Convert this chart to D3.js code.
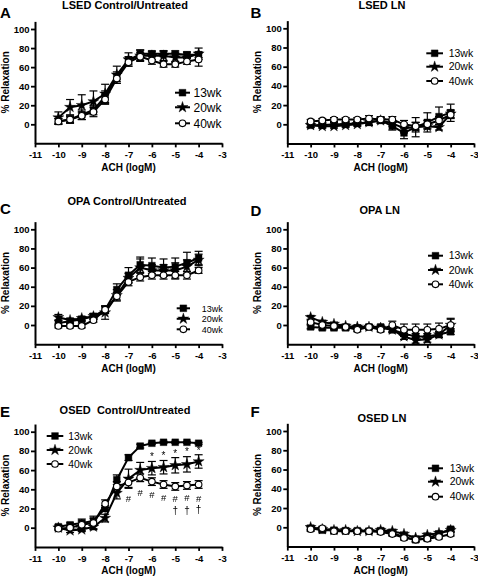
<!DOCTYPE html>
<html>
<head>
<meta charset="utf-8">
<script src="https://cdn.jsdelivr.net/npm/d3@7"></script>
<style>
  html, body { margin: 0; padding: 0; background: #fff; }
  svg { display: block; font-family: "Liberation Sans", Arial, sans-serif; }
  text { fill: #000; }
  .sig { will-change: transform; opacity: 0.999; }
</style>
</head>
<body>
<script>
// ---------------- DATA ----------------
const conc = [-10, -9.5, -9, -8.5, -8, -7.5, -7, -6.5, -6, -5.5, -5, -4.5, -4];
const xTicks = [-11, -10, -9, -8, -7, -6, -5, -4, -3];
const yTicks = [0, 20, 40, 60, 80, 100];
const seriesNames = ["13wk", "20wk", "40wk"];
const panelLetters = ["A", "B", "C", "D", "E", "F"];
const panelTitles = ["LSED Control/Untreated", "LSED LN", "OPA Control/Untreated", "OPA LN", "OSED  Control/Untreated", "OSED LN"];
const xLabel = "ACH (logM)";
const yLabel = "% Relaxation";

// A: LSED Control/Untreated
const a13 = [3, 5, 10, 15, 29, 50, 67, 74, 74, 74, 74, 73, 73];
const a13Err = [3, 4, 5, 5, 6, 5, 4, 4, 3, 3, 3, 3, 3];
const a20 = [7, 18, 20, 24, 32, 52, 68, 72, 72, 72, 70, 70, 74];
const a20Err = [6, 8, 11, 11, 10, 9, 7, 6, 4, 5, 5, 5, 6];
const a40 = [3, 5, 9, 13, 26, 48, 65, 71, 67, 63, 63, 66, 68];
const a40Err = [3, 3, 4, 5, 5, 5, 4, 4, 4, 3, 3, 3, 7];
// B: LSED LN
const b13 = [-1, -1, 0, 0, 1, 2, 4, -2, -9, -3, 2, 8, 12];
const b13Err = [2, 2, 2, 2, 2, 3, 3, 4, 6, 5, 10, 10, 9];
const b20 = [-1, -2, -2, -1, 0, 2, 4, 1, -4, -3, -2, -3, 11];
const b20Err = [2, 2, 2, 2, 2, 3, 3, 3, 5, 10, 3, 3, 4];
const b40 = [3, 4, 5, 5, 5, 6, 5, 5, 0, -2, 0, 4, 10];
const b40Err = [2, 2, 2, 2, 2, 3, 3, 3, 4, 4, 4, 4, 4];
// C: OPA Control/Untreated
const c13 = [2, 4, 6, 9, 16, 37, 52, 63, 62, 60, 61, 65, 70];
const c13Err = [3, 2, 2, 3, 4, 6, 8, 8, 8, 9, 9, 11, 7];
const c20 = [8, 5, 7, 9, 13, 31, 49, 60, 57, 57, 57, 61, 68];
const c20Err = [3, 2, 2, 3, 7, 6, 5, 9, 6, 6, 8, 7, 6];
const c40 = [-1, -1, -1, 5, 16, 30, 45, 50, 52, 52, 52, 52, 57];
const c40Err = [2, 2, 2, 2, 3, 4, 4, 4, 4, 4, 4, 4, 3];
// D: OPA LN
const d13 = [-2, -3, -3, -3, -3, -2, -2, -5, -9, -12, -12, -10, -7];
const d13Err = [2, 2, 2, 2, 2, 2, 2, 3, 3, 3, 3, 3, 3];
const d20 = [8, 3, 1, -1, -2, -2, -3, -5, -12, -16, -15, -10, 0];
const d20Err = [2, 2, 2, 2, 2, 2, 2, 2, 3, 3, 3, 3, 7];
const d40 = [3, 0, -1, -2, -5, -2, -5, 0, -5, -5, -5, -4, 0];
const d40Err = [2, 2, 2, 2, 2, 2, 2, 4, 6, 6, 6, 6, 6];
// E: OSED Control/Untreated
const e13 = [1, 3, 5, 7, 20, 50, 73, 85, 88, 89, 89, 89, 88];
const e13Err = [2, 2, 2, 3, 3, 5, 3, 2, 1, 1, 1, 1, 1];
const e20 = [0, -3, -2, 1, 10, 36, 51, 60, 62, 63, 65, 66, 69];
const e20Err = [2, 2, 2, 2, 4, 6, 10, 8, 7, 7, 8, 8, 7];
const e40 = [-1, 0, 3, 5, 25, 43, 47, 52, 48, 45, 43, 44, 45];
const e40Err = [2, 2, 6, 7, 4, 5, 5, 4, 4, 4, 4, 4, 4];
// F: OSED LN
const f13 = [-1, -3, -3, -3.5, -3.5, -4, -3.5, -6, -10, -13, -11.5, -7, -2];
const f13Err = [2, 2, 2, 2, 2, 2, 2, 2, 2, 2, 2, 2, 2];
const f20 = [0, -2, -3, -3, -4, -4, -3, -4, -7, -11, -8, -6, -3];
const f20Err = [2, 2, 2, 2, 2, 2, 2, 2, 2, 2, 2, 2, 2];
const f40 = [-2, -1, -4, -4, -4, -4, -5, -7, -11, -13, -12, -10, -7];
const f40Err = [2, 2, 2, 2, 2, 2, 2, 2, 2, 2, 2, 2, 2];

// Significance marks in panel E (data coordinates)
const starX = [-6, -5.5, -5, -4.5, -4];
const starY = [75.7, 76.8, 79, 81, 81.7];
const hashX = [-7, -6.5, -6, -5.5, -5, -4.5, -4];
const hashY = [30, 36.9, 34.8, 31.3, 30, 31.3, 30.6];
const daggerX = [-5, -4.5, -4];
const daggerY = [18.4, 18.4, 19.4];

const panelData = [
  [[a13, a13Err], [a20, a20Err], [a40, a40Err]],
  [[b13, b13Err], [b20, b20Err], [b40, b40Err]],
  [[c13, c13Err], [c20, c20Err], [c40, c40Err]],
  [[d13, d13Err], [d20, d20Err], [d40, d40Err]],
  [[e13, e13Err], [e20, e20Err], [e40, e40Err]],
  [[f13, f13Err], [f20, f20Err], [f40, f40Err]]
];

// ---------------- LAYOUT ----------------
const layout = [
  {x0: 35, x1: 222, y0: 124.3, y100: 29, titleX: 125, titleY: 8.5, letX: 0, letY: 18.3,
   leg: {l1: 175, l2: 190, tx: 193.5, rows: [92.7, 107.3, 123.3], fs: 12}},
  {x0: 287.3, x1: 474, y0: 124.3, y100: 28.3, titleX: 382, titleY: 8.5, letX: 250.5, letY: 17.5,
   leg: {l1: 426.3, l2: 443, tx: 448.7, rows: [53.3, 66.7, 81], fs: 10.5}},
  {x0: 35, x1: 222, y0: 325, y100: 229.3, titleX: 127, titleY: 205, letX: 0, letY: 214,
   leg: {l1: 176.7, l2: 190, tx: 201.7, rows: [308.3, 318.8, 329.3], fs: 9}},
  {x0: 287.3, x1: 474, y0: 325, y100: 229.3, titleX: 379.7, titleY: 213.5, letX: 250.5, letY: 215.5,
   leg: {l1: 428, l2: 443, tx: 448.7, rows: [255.7, 270, 284.3], fs: 10.5}},
  {x0: 35, x1: 222, y0: 527.7, y100: 431.7, titleX: 125, titleY: 413.5, letX: 0, letY: 417,
   leg: {l1: 46.7, l2: 63.3, tx: 68.3, rows: [436, 450, 464], fs: 10.3}},
  {x0: 287.3, x1: 474, y0: 527.3, y100: 431, titleX: 382, titleY: 421.5, letX: 250.5, letY: 417,
   leg: {l1: 428, l2: 443, tx: 449.7, rows: [468.3, 481.7, 496.7], fs: 10.5}}
];

const svg = d3.select("body").append("svg")
  .attr("width", 478).attr("height", 578);

const symbols = [
  d3.symbol().type(d3.symbolSquare).size(46),
  d3.symbol().type(d3.symbolStar).size(38),
  d3.symbol().type(d3.symbolCircle).size(34)
];
const fills = ["#000", "#000", "#fff"];

function drawMarker(g, i, cx, cy) {
  g.append("path")
    .attr("d", symbols[i]())
    .attr("transform", `translate(${cx},${cy})`)
    .attr("fill", fills[i])
    .attr("stroke", "#000")
    .attr("stroke-width", i === 2 ? 1.1 : 0.4);
}

layout.forEach((p, pi) => {
  const g = svg.append("g");
  const x = d3.scaleLinear().domain([-11, -3]).range([p.x0, p.x1]);
  const k = (p.y0 - p.y100) / 100;
  const y = d3.scaleLinear().domain([-20, 108]).range([p.y0 + 20 * k, p.y0 - 108 * k]);

  // Axes
  const xa = g.append("g")
    .attr("transform", `translate(0,${y(-20)})`)
    .call(d3.axisBottom(x).tickValues(xTicks).tickSize(4).tickSizeOuter(0).tickPadding(4).tickFormat(d => String(d)));
  const ya = g.append("g")
    .attr("transform", `translate(${p.x0},0)`)
    .call(d3.axisLeft(y).tickValues(yTicks).tickSize(4).tickSizeOuter(0).tickPadding(1.5).tickFormat(d => String(d)));
  [xa, ya].forEach(a => {
    a.select(".domain").attr("stroke-width", 2);
    a.selectAll(".tick line").attr("stroke-width", 1.8);
    a.selectAll(".tick text").attr("font-size", 9.5).attr("font-weight", "bold")
      .attr("font-family", "Liberation Sans, Arial, sans-serif").attr("fill", "#000");
  });

  // Axis titles
  g.append("text")
    .attr("x", (p.x0 + p.x1) / 2).attr("y", y(-20) + 27.5)
    .attr("text-anchor", "middle").attr("font-size", 10).attr("font-weight", "bold")
    .text(xLabel);
  g.append("text")
    .attr("transform", `translate(${p.x0 - 26.5},${(y(-20) + y(108)) / 2}) rotate(-90)`)
    .attr("text-anchor", "middle").attr("font-size", 10).attr("font-weight", "bold")
    .text(yLabel);

  // Title and panel letter
  g.append("text")
    .attr("x", p.titleX).attr("y", p.titleY)
    .attr("text-anchor", "middle").attr("font-size", 11).attr("font-weight", "bold")
    .style("white-space", "pre")
    .text(panelTitles[pi]);
  g.append("text")
    .attr("x", p.letX).attr("y", p.letY)
    .attr("font-size", 15).attr("font-weight", "bold")
    .text(panelLetters[pi]);

  const data = panelData[pi];
  const line = d3.line().x((d, i) => x(conc[i])).y(d => y(d));

  // lines
  data.forEach(([m]) => {
    g.append("path").datum(m).attr("d", line)
      .attr("fill", "none").attr("stroke", "#000").attr("stroke-width", 2);
  });
  // error bars
  data.forEach(([m, e]) => {
    m.forEach((v, i) => {
      const cx = x(conc[i]);
      const top = y(v + e[i]), bot = y(v - e[i]);
      g.append("line").attr("x1", cx).attr("x2", cx).attr("y1", top).attr("y2", bot)
        .attr("stroke", "#000").attr("stroke-width", 1.2);
      [top, bot].forEach(yy => g.append("line")
        .attr("x1", cx - 4).attr("x2", cx + 4).attr("y1", yy).attr("y2", yy)
        .attr("stroke", "#000").attr("stroke-width", 1.2));
    });
  });
  // markers
  data.forEach(([m], si) => {
    m.forEach((v, i) => drawMarker(g, si, x(conc[i]), y(v)));
  });

  // legend
  const L = p.leg;
  seriesNames.forEach((name, si) => {
    const ry = L.rows[si];
    g.append("line").attr("x1", L.l1).attr("x2", L.l2).attr("y1", ry).attr("y2", ry)
      .attr("stroke", "#000").attr("stroke-width", 2);
    drawMarker(g, si, (L.l1 + L.l2) / 2, ry);
    g.append("text").attr("x", L.tx).attr("y", ry).attr("dy", "0.36em")
      .attr("font-size", L.fs).text(name);
  });

  // significance marks for panel E
  if (pi === 4) {
    const sg = g.append("g").attr("class", "sig");
    starX.forEach((sx, i) => sg.append("text").attr("x", x(sx)).attr("y", y(starY[i]) + 5)
      .attr("text-anchor", "middle").attr("font-size", 10).attr("fill", "#000").text("*"));
    hashX.forEach((hx, i) => sg.append("text").attr("x", x(hx)).attr("y", y(hashY[i]) + 3.5)
      .attr("text-anchor", "middle").attr("font-size", 9.5).attr("fill", "#000").text("#"));
    daggerX.forEach((dx, i) => sg.append("text").attr("x", x(dx)).attr("y", y(daggerY[i]) + 3.5)
      .attr("text-anchor", "middle").attr("font-size", 10).attr("fill", "#000").text("\u2020"));
  }
});
</script>
</body>
</html>
